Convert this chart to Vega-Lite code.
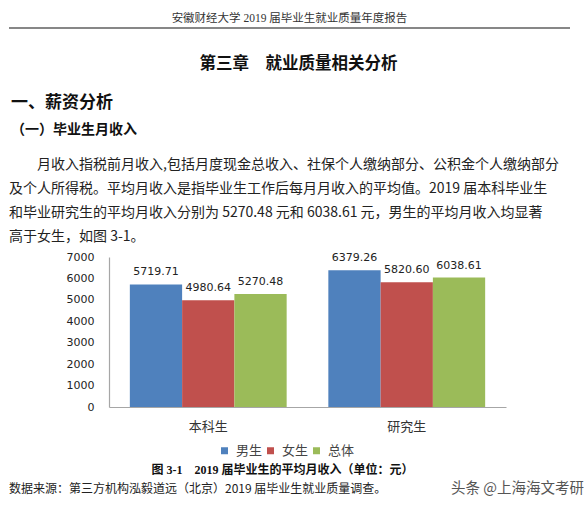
{
  "$schema": "https://vega.github.io/schema/vega-lite/v6.json",
  "background": "white",
  "padding": {"left": 8, "top": 12, "right": 0, "bottom": 0},
  "spacing": 0,
  "config": {
    "view": {"stroke": null},
    "font": "Noto Sans CJK SC",
    "title": {"color": "#111", "frame": "group"}
  },
  "resolve": {"scale": {"color": "independent"}, "legend": {"color": "independent"}},
  "vconcat": [
    {
      "width": 561,
      "height": 26.5,
      "data": {"values": [{}]},
      "mark": {"type": "rule", "color": "#111", "strokeWidth": 1.2},
      "encoding": {
        "y": {"datum": 1, "type": "quantitative", "scale": {"domain": [0, 1]}, "axis": null}
      },
      "title": {
        "text": "安徽财经大学 2019 届毕业生就业质量年度报告",
        "font": "Liberation Serif, Noto Sans CJK SC",
        "fontSize": 11.5,
        "fontWeight": "normal",
        "color": "#333",
        "anchor": "middle",
        "offset": 3
      }
    },
    {
      "width": 561,
      "height": 20.5,
      "data": {"values": []},
      "mark": "text",
      "encoding": {},
      "title": {
        "text": "第三章　就业质量相关分析",
        "fontSize": 16.5,
        "fontWeight": "bold",
        "anchor": "middle",
        "dx": 9,
        "offset": 0
      }
    },
    {
      "width": 561,
      "height": 19,
      "data": {"values": []},
      "mark": "text",
      "encoding": {},
      "title": {
        "text": "一、薪资分析",
        "subtitle": "（一）毕业生月收入",
        "fontSize": 17,
        "fontWeight": "bold",
        "subtitleFont": "Noto Sans CJK SC",
        "subtitleFontSize": 14,
        "subtitleFontWeight": "bold",
        "subtitleColor": "#111",
        "subtitlePadding": 11.5,
        "anchor": "start",
        "dx": 2,
        "offset": 0
      }
    },
    {
      "width": 561,
      "height": 7,
      "data": {"values": []},
      "mark": "text",
      "encoding": {},
      "title": {
        "text": [
          "\u200b　　月收入指税前月收入,包括月度现金总收入、社保个人缴纳部分、公积金个人缴纳部分",
          "及个人所得税。平均月收入是指毕业生工作后每月月收入的平均值。2019 届本科毕业生",
          "和毕业研究生的平均月收入分别为 5270.48 元和 6038.61 元，男生的平均月收入均显著",
          "高于女生，如图 3-1。"
        ],
        "fontSize": 14,
        "fontWeight": "normal",
        "lineHeight": 24.1,
        "color": "#222",
        "anchor": "start",
        "offset": 0
      }
    },
    {
      "spacing": 0,
      "resolve": {"scale": {"color": "independent"}, "legend": {"color": "independent"}},
      "hconcat": [
        {
          "width": 40,
          "height": 150,
          "data": {"values": []},
          "mark": "text",
          "encoding": {}
        },
        {
          "width": 397,
          "height": 150,
          "data": {
            "values": [
              {"类别": "本科生", "性别": "男生", "收入": 5719.71},
              {"类别": "本科生", "性别": "女生", "收入": 4980.64},
              {"类别": "本科生", "性别": "总体", "收入": 5270.48},
              {"类别": "研究生", "性别": "男生", "收入": 6379.26},
              {"类别": "研究生", "性别": "女生", "收入": 5820.60},
              {"类别": "研究生", "性别": "总体", "收入": 6038.61}
            ]
          },
          "title": {
            "text": "图 3-1　2019 届毕业生的平均月收入（单位：元）",
            "orient": "bottom",
            "anchor": "middle",
            "dx": -25,
            "offset": 6.5,
            "font": "Liberation Serif, Noto Sans CJK SC",
            "fontSize": 12,
            "fontWeight": "bold",
            "color": "#111"
          },
          "encoding": {
            "x": {
              "field": "类别",
              "type": "nominal",
              "sort": ["本科生", "研究生"],
              "scale": {"paddingInner": 0.21, "paddingOuter": 0.105},
              "axis": {
                "title": null,
                "labelAngle": 0,
                "ticks": false,
                "tickSize": 0,
                "labelPadding": 13,
                "labelFont": "Liberation Serif, Noto Sans CJK SC",
                "labelFontSize": 13,
                "labelColor": "#333",
                "domainColor": "#a6a6a6",
                "domainWidth": 1.2,
                "grid": false
              }
            },
            "xOffset": {
              "field": "性别",
              "type": "nominal",
              "sort": ["男生", "女生", "总体"],
              "scale": {"paddingInner": 0, "paddingOuter": 0}
            },
            "y": {
              "field": "收入",
              "type": "quantitative",
              "scale": {"domain": [0, 7000], "nice": false},
              "axis": {
                "title": null,
                "values": [0, 1000, 2000, 3000, 4000, 5000, 6000, 7000],
                "format": "d",
                "ticks": false,
                "tickSize": 0,
                "grid": false,
                "labelPadding": 15,
                "labelFont": "DejaVu Sans",
                "labelFontSize": 11,
                "labelColor": "#222",
                "domainColor": "#a6a6a6",
                "domainWidth": 1.2,
                "minExtent": 60,
                "maxExtent": 200
              }
            }
          },
          "layer": [
            {
              "mark": {"type": "bar"},
              "encoding": {
                "color": {
                  "field": "性别",
                  "type": "nominal",
                  "scale": {"domain": ["男生", "女生", "总体"], "range": ["#4f81bd", "#c0504d", "#9bbb59"]},
                  "legend": {
                    "orient": "none",
                    "legendX": 109,
                    "legendY": 187,
                    "direction": "horizontal",
                    "title": null,
                    "symbolType": "square",
                    "symbolSize": 49,
                    "symbolStrokeWidth": 0,
                    "symbolOpacity": 1,
                    "labelFont": "Liberation Serif, Noto Sans CJK SC",
                    "labelFontSize": 13,
                    "labelColor": "#444",
                    "labelOffset": 5,
                    "columnPadding": 1,
                    "padding": 0
                  }
                }
              }
            },
            {
              "mark": {"type": "text", "dy": -12, "baseline": "middle", "font": "DejaVu Sans", "fontSize": 11, "color": "#222"},
              "encoding": {
                "text": {"field": "收入", "type": "quantitative", "format": ".2f"}
              }
            }
          ]
        }
      ]
    },
    {
      "spacing": 0,
      "hconcat": [
        {
          "width": 374,
          "height": 0,
          "data": {"values": []},
          "mark": "text",
          "encoding": {},
          "title": {
            "text": "数据来源：第三方机构泓毅道远（北京）2019 届毕业生就业质量调查。",
            "orient": "bottom",
            "anchor": "start",
            "fontSize": 12,
            "fontWeight": "normal",
            "color": "#222",
            "offset": -12
          }
        },
        {
          "width": 197,
          "height": 0,
          "data": {"values": []},
          "mark": "text",
          "encoding": {},
          "title": {
            "text": "头条 @上海海文考研",
            "orient": "bottom",
            "anchor": "end",
            "fontSize": 14.5,
            "fontWeight": "normal",
            "color": "#555",
            "offset": -14.5
          }
        }
      ]
    }
  ]
}
